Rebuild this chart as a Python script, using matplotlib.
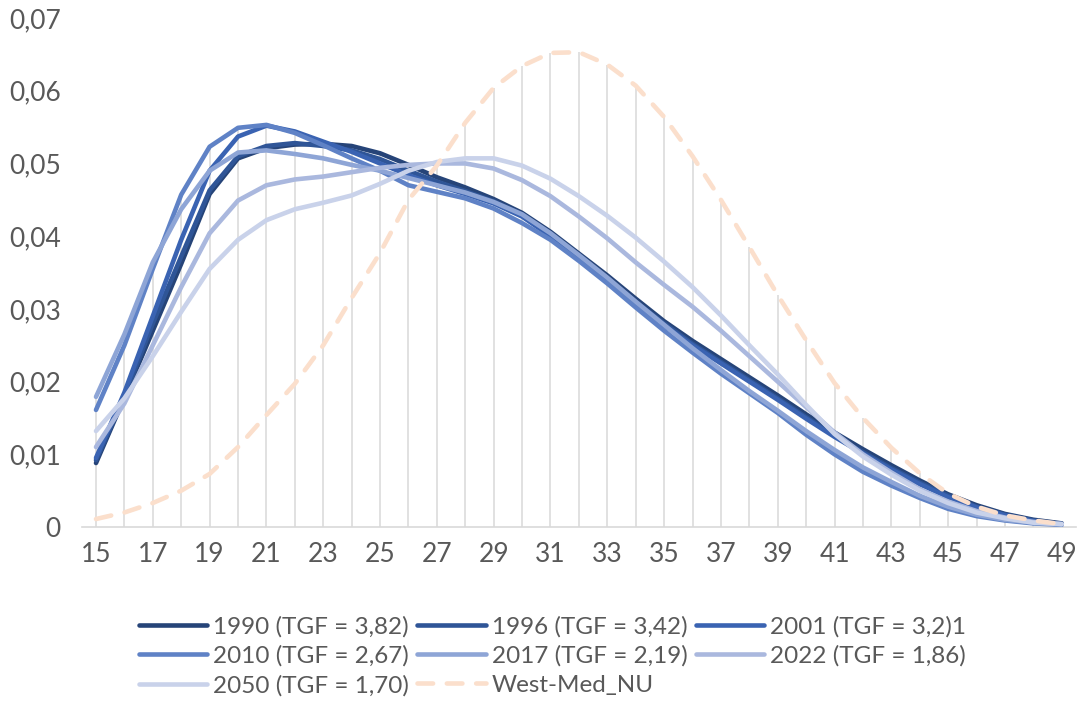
import matplotlib
matplotlib.use("Agg")
import matplotlib.pyplot as plt
import numpy as np

ages = list(range(15, 50))

s1990 = [0.0088, 0.0178, 0.0270, 0.0362, 0.0458, 0.0507, 0.0521, 0.0526, 0.0527, 0.0524,
         0.0514, 0.0498, 0.0481, 0.0467, 0.0451, 0.0432, 0.0406, 0.0376, 0.0346, 0.0314,
         0.0283, 0.0256, 0.0231, 0.0206, 0.0181, 0.0155, 0.0130, 0.0107, 0.0085, 0.0064,
         0.0045, 0.0030, 0.0018, 0.0010, 0.0005]
s1996 = [0.0092, 0.0180, 0.0280, 0.0372, 0.0463, 0.0510, 0.0524, 0.0528, 0.0524, 0.0518,
         0.0506, 0.0490, 0.0475, 0.0462, 0.0448, 0.0430, 0.0403, 0.0372, 0.0342, 0.0310,
         0.0280, 0.0252, 0.0227, 0.0202, 0.0177, 0.0151, 0.0126, 0.0103, 0.0081, 0.0061,
         0.0043, 0.0028, 0.0017, 0.0009, 0.0004]
s2001 = [0.0095, 0.0185, 0.0290, 0.0395, 0.0490, 0.0537, 0.0552, 0.0544, 0.0530, 0.0516,
         0.0500, 0.0484, 0.0470, 0.0458, 0.0445, 0.0427, 0.0400, 0.0370, 0.0340, 0.0308,
         0.0277, 0.0250, 0.0225, 0.0200, 0.0175, 0.0149, 0.0124, 0.0101, 0.0079, 0.0059,
         0.0041, 0.0027, 0.0016, 0.0008, 0.0004]
s2010 = [0.0161, 0.0250, 0.0355, 0.0457, 0.0523, 0.0549, 0.0553, 0.0542, 0.0525, 0.0507,
         0.0490, 0.0470, 0.0461, 0.0452, 0.0438, 0.0418, 0.0395, 0.0366, 0.0335, 0.0302,
         0.0270, 0.0240, 0.0211, 0.0184, 0.0157, 0.0127, 0.0100, 0.0076, 0.0057, 0.0040,
         0.0025, 0.0015, 0.0009, 0.0005, 0.0003]
s2017 = [0.0179, 0.0265, 0.0364, 0.0437, 0.0490, 0.0515, 0.0518, 0.0513, 0.0507, 0.0498,
         0.0490, 0.0480, 0.0470, 0.0460, 0.0447, 0.0430, 0.0404, 0.0374, 0.0343, 0.0310,
         0.0278, 0.0246, 0.0216, 0.0187, 0.0160, 0.0132, 0.0106, 0.0082, 0.0062, 0.0043,
         0.0028, 0.0017, 0.0010, 0.0006, 0.0004]
s2022 = [0.0110, 0.0170, 0.0250, 0.0330, 0.0404, 0.0449, 0.0470, 0.0478, 0.0482, 0.0488,
         0.0494, 0.0498, 0.0500, 0.0500, 0.0493, 0.0477, 0.0455, 0.0427, 0.0397, 0.0364,
         0.0333, 0.0303, 0.0270, 0.0235, 0.0200, 0.0165, 0.0130, 0.0100, 0.0075, 0.0052,
         0.0035, 0.0022, 0.0013, 0.0007, 0.0004]
s2050 = [0.0132, 0.0177, 0.0235, 0.0296, 0.0355, 0.0395, 0.0422, 0.0437, 0.0446, 0.0456,
         0.0472, 0.0490, 0.0502, 0.0507, 0.0507, 0.0497, 0.0479, 0.0455, 0.0428, 0.0398,
         0.0365, 0.0330, 0.0291, 0.0250, 0.0210, 0.0168, 0.0128, 0.0097, 0.0072, 0.0050,
         0.0033, 0.0020, 0.0012, 0.0006, 0.0004]
west_med = [0.0011, 0.0020, 0.0033, 0.0050, 0.0073, 0.0110, 0.0154, 0.0197, 0.0250, 0.0315,
            0.0377, 0.0450, 0.0497, 0.0556, 0.0604, 0.0634, 0.0652, 0.0653, 0.0636, 0.0607,
            0.0564, 0.0510, 0.0450, 0.0385, 0.0319, 0.0257, 0.0198, 0.0150, 0.0109, 0.0074,
            0.0046, 0.0028, 0.0016, 0.0009, 0.0004]

labels = ["1990 (TGF = 3,82)", "1996 (TGF = 3,42)", "2001 (TGF = 3,2)1",
          "2010 (TGF = 2,67)", "2017 (TGF = 2,19)", "2022 (TGF = 1,86)",
          "2050 (TGF = 1,70)", "West-Med_NU"]
colors = ["#264478", "#2F5597", "#3A63B2", "#5F82C6", "#8EA5D6", "#AAB8DE", "#C9D2EA", "#FBDFCC"]

ytick_vals = [0, 0.01, 0.02, 0.03, 0.04, 0.05, 0.06, 0.07]
ytick_labels = ["0", "0,01", "0,02", "0,03", "0,04", "0,05", "0,06", "0,07"]
xtick_vals = list(range(15, 50, 2))

plt.rcParams['font.family'] = ['Lato', 'DejaVu Sans']

fig = plt.figure(figsize=(10.79, 7.15), dpi=100)
ax = fig.add_axes([0.0758, 0.2629, 0.9214, 0.7119])

series = [s1990, s1996, s2001, s2010, s2017, s2022, s2050]
all_series = series + [west_med]
tops = np.max(np.array(all_series), axis=0)
ax.vlines(ages, 0, tops, color="#D9D9D9", linewidth=1.1, zorder=1)

handles = []
for s, c, lab in zip(series, colors[:7], labels[:7]):
    h, = ax.plot(ages, s, color=c, linewidth=3.3, solid_capstyle='round',
                 solid_joinstyle='round', label=lab, zorder=3)
    handles.append(h)
h, = ax.plot(ages, west_med, color=colors[7], linewidth=3.3, linestyle=(0, (3.4, 3.0)),
             dash_capstyle='round', label=labels[7], zorder=4)
handles.append(h)

ax.set_xlim(14.5, 49.5)
ax.set_ylim(0, 0.07)
ax.set_yticks(ytick_vals)
ax.set_yticklabels(ytick_labels)
ax.set_xticks(xtick_vals)
ax.set_xticklabels([str(v) for v in xtick_vals])
ax.tick_params(axis='both', length=0, labelsize=19, labelcolor="#595959")
ax.tick_params(axis='y', pad=15)
ax.tick_params(axis='x', pad=11)
for sp in ['top', 'right', 'left']:
    ax.spines[sp].set_visible(False)
ax.spines['bottom'].set_color("#D9D9D9")
ax.spines['bottom'].set_linewidth(1.2)

# row-wise legend order for 3 columns
order = [0, 3, 6, 1, 4, 7, 2, 5]
leg = fig.legend(handles=[handles[i] for i in order], labels=[labels[i] for i in order],
                 ncol=3, loc='center', bbox_to_anchor=(0.512, 0.0825), frameon=False,
                 fontsize=17.5, handlelength=2.8, handletextpad=0.25, columnspacing=0.35,
                 labelspacing=0.33, borderpad=0.0)
for t in leg.get_texts():
    t.set_color("#595959")

fig.savefig("out.png", dpi=100)
